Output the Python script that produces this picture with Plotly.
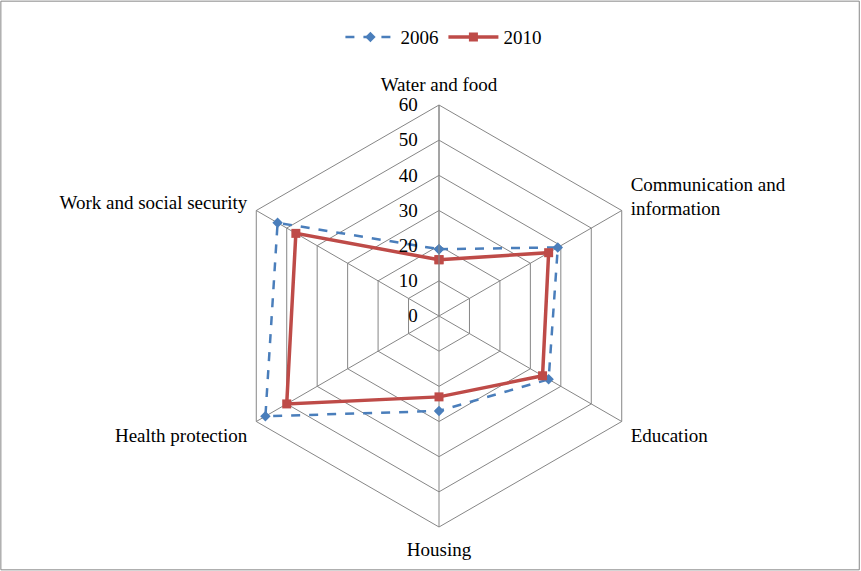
import plotly.graph_objects as go

categories = ["Water and food", "Communication and<br>information", "Education",
              "Housing", "Health protection", "Work and social security"]
values_2006 = [19, 39, 36, 27, 57, 53]
values_2010 = [16, 36, 34, 23, 50, 47]

def closed(v):
    return v + v[:1]

fig = go.Figure()
fig.add_trace(go.Scatterpolar(
    r=closed(values_2006), theta=closed(categories), name="2006",
    mode="lines+markers",
    line=dict(color="#4A7EBB", width=2.5, dash="dash"),
    marker=dict(symbol="diamond", size=8, color="#4A7EBB"),
))
fig.add_trace(go.Scatterpolar(
    r=closed(values_2010), theta=closed(categories), name="2010",
    mode="lines+markers",
    line=dict(color="#BE4B48", width=3.5),
    marker=dict(symbol="square", size=9, color="#BE4B48"),
))

cx, cy, R = 439, 316, 211
W, H = 861, 571
fig.update_layout(
    width=W, height=H,
    margin=dict(l=0, r=0, t=0, b=0),
    paper_bgcolor="white",
    font=dict(family="Liberation Serif", size=19, color="black"),
    showlegend=True,
    legend=dict(orientation="h", x=0.515, xanchor="center", y=0.935, yanchor="middle",
                itemwidth=50, font=dict(size=19)),
    polar=dict(
        domain=dict(x=[(cx - R) / W, (cx + R) / W], y=[(H - cy - R) / H, (H - cy + R) / H]),
        gridshape="linear",
        bgcolor="white",
        angularaxis=dict(rotation=90, direction="clockwise", showline=True,
                         linecolor="#868686", gridcolor="#868686", linewidth=1,
                         ticks="outside", ticklen=6, tickcolor="rgba(0,0,0,0)",
                         tickfont=dict(size=19)),
        radialaxis=dict(range=[0, 60], dtick=10, angle=90, tickangle=90,
                        showline=True, linecolor="#868686", gridcolor="#868686",
                        ticks="outside", ticklen=14, tickcolor="rgba(0,0,0,0)",
                        side="counterclockwise", tickfont=dict(size=19)),
    ),
    shapes=[dict(type="rect", xref="paper", yref="paper", x0=0.001, y0=0.002, x1=0.998, y1=0.998,
                 line=dict(color="#868686", width=1))],
)
fig.write_html("out.html")
